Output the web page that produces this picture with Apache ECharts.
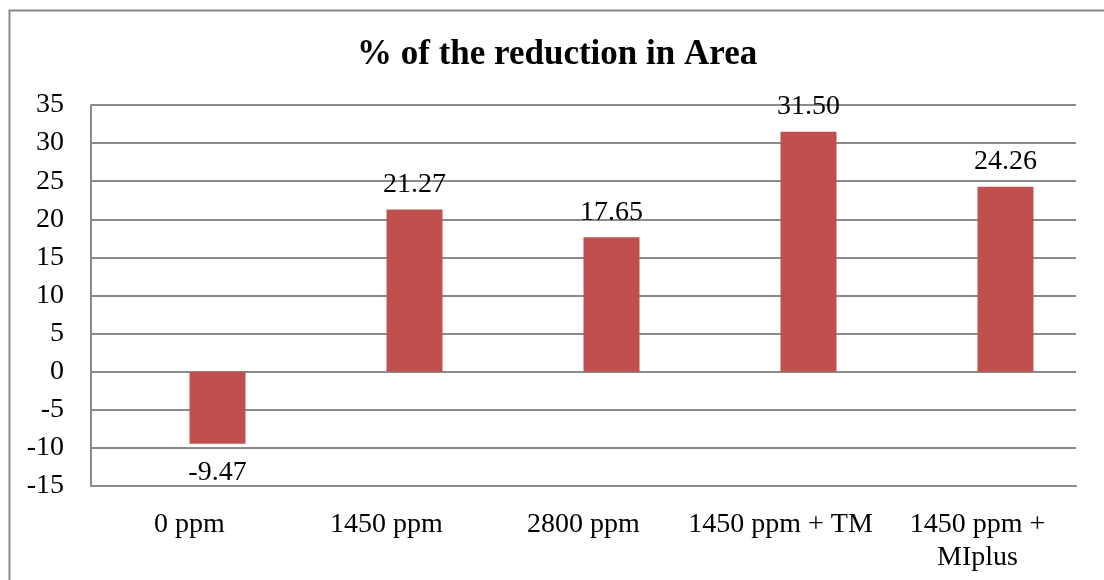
<!DOCTYPE html>
<html>
<head>
<meta charset="utf-8">
<script src="https://cdn.jsdelivr.net/npm/echarts@6/dist/echarts.min.js"></script>
<style>html,body{margin:0;padding:0;background:#fff;}#c{width:1104px;height:580px;}</style>
</head>
<body>
<div id="c"></div>
<script>
const categories = ['0 ppm', '1450 ppm', '2800 ppm', '1450 ppm + TM', '1450 ppm +\nMIplus'];
const values = [-9.47, 21.27, 17.65, 31.50, 24.26];
const emptySeries = [null, null, null, null, null];
const yMin = -15, yMax = 35, yStep = 5;
const titleText = '% of the reduction in Area';

const FONT = '"Liberation Serif", "Times New Roman", serif';
const chart = echarts.init(document.getElementById('c'), null, {renderer: 'canvas'});
chart.setOption({
  backgroundColor: '#fff',
  animation: false,
  title: {
    text: titleText, left: 352, top: 32,
    textStyle: {fontFamily: FONT, fontSize: 35, fontWeight: 'bold', color: '#000'}
  },
  graphic: [{
    type: 'rect', shape: {x: 9.5, y: 10.5, width: 1300, height: 800},
    style: {fill: 'none', stroke: '#8a8a8a', lineWidth: 2}, silent: true, z: -1
  }],
  grid: {left: 91, right: 28, top: 105, bottom: 94},
  xAxis: {
    type: 'category', data: categories,
    axisLine: {onZero: false, lineStyle: {color: '#8a8a8a', width: 2}},
    axisTick: {show: false},
    axisLabel: {fontFamily: FONT, fontSize: 28, color: '#000', margin: 22, lineHeight: 33, interval: 0}
  },
  yAxis: {
    type: 'value', min: yMin, max: yMax, interval: yStep,
    axisLine: {show: true, lineStyle: {color: '#8a8a8a', width: 2}},
    axisTick: {show: false},
    splitLine: {lineStyle: {color: '#8a8a8a', width: 2}},
    axisLabel: {fontFamily: FONT, fontSize: 28, color: '#000', margin: 27}
  },
  series: [{
    type: 'bar', barWidth: 56, barGap: '0%',
    data: emptySeries,
    itemStyle: {color: '#4F81BD'}
  }, {
    type: 'bar', barWidth: 56, barGap: '0%',
    data: values.map(v => ({
      value: v,
      label: v < 0 ? {position: 'bottom', distance: 15} : {position: 'top', distance: 11}
    })),
    itemStyle: {color: '#C0504D'},
    label: {
      show: true, fontFamily: FONT, fontSize: 28, color: '#000',
      formatter: p => p.value.toFixed(2)
    }
  }]
});
</script>
</body>
</html>
